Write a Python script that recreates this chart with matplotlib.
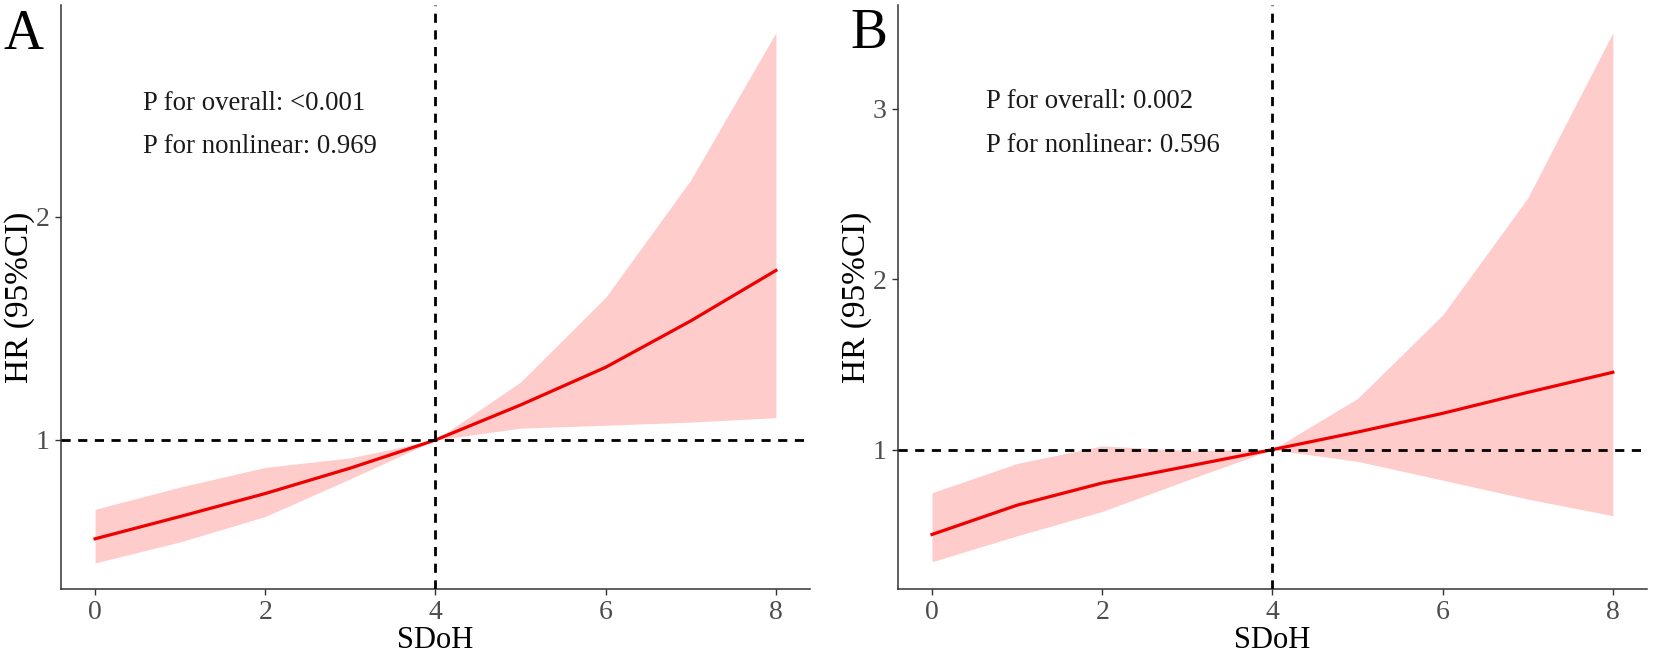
import numpy as np
import matplotlib
matplotlib.use("Agg")
import matplotlib.pyplot as plt

plt.rcParams['font.family'] = ['Liberation Serif', 'DejaVu Serif']

# SDoH score
sdoh = [0, 1, 2, 3, 4, 5, 6, 7, 8]

# panel A: HR and 95% CI
hr_a = [0.557, 0.657, 0.76, 0.874, 1.0, 1.157, 1.326, 1.534, 1.76]
lo_a = [0.449, 0.543, 0.657, 0.826, 1.0, 1.053, 1.066, 1.08, 1.10]
hi_a = [0.689, 0.789, 0.877, 0.92, 1.0, 1.26, 1.64, 2.166, 2.826]

# panel B: HR and 95% CI
hr_b = [0.502, 0.674, 0.804, 0.902, 1.0, 1.103, 1.213, 1.336, 1.454]
lo_b = [0.342, 0.494, 0.637, 0.821, 1.0, 0.931, 0.821, 0.71, 0.612]
hi_b = [0.747, 0.919, 1.022, 0.995, 1.0, 1.30, 1.79, 2.477, 3.447]

p_text_a = ["P for overall: <0.001", "P for nonlinear: 0.969"]
p_text_b = ["P for overall: 0.002", "P for nonlinear: 0.596"]

ref_x = 4
ref_y = 1


def draw_panel(ax, hr, lo, hi, ylim, yticks, ptext, tx, ty):
    ax.fill_between(sdoh, lo, hi, color="#FFCCCC", linewidth=0, zorder=1)
    ax.plot(sdoh, hr, color="#EE0000", linewidth=2.3, zorder=3)
    ax.axhline(ref_y, color="black", linewidth=2.0, dashes=(3.3, 2.7), zorder=4)
    ax.axvline(ref_x, color="black", linewidth=2.0, dashes=(3.3, 2.7), zorder=4)
    ax.set_xlim(-0.4, 8.4)
    ax.set_ylim(*ylim)
    ax.set_xticks([0, 2, 4, 6, 8])
    ax.set_yticks(yticks)
    ax.spines['top'].set_visible(False)
    ax.spines['right'].set_visible(False)
    for s in ['left', 'bottom']:
        ax.spines[s].set_color("#333333")
        ax.spines[s].set_linewidth(1.1)
    ax.tick_params(axis='both', colors="#333333", labelcolor="#4D4D4D",
                   labelsize=20, length=4, width=1.0, pad=4)
    ax.set_xlabel("SDoH", fontsize=22, color="black", labelpad=1)
    ax.set_ylabel("HR (95%CI)", fontsize=24, color="black", va="center")
    ax.yaxis.set_label_coords(-0.055, 0.5)
    for t, y in zip(ptext, ty):
        ax.text(tx, y, t, fontsize=19.3, color="#1a1a1a", va="baseline", ha="left")


fig = plt.figure(figsize=(16.54, 6.54), dpi=100)
ax1 = fig.add_axes([0.0369, 0.0994, 0.4528, 0.893])
ax2 = fig.add_axes([0.5429, 0.0994, 0.4528, 0.893])

draw_panel(ax1, hr_a, lo_a, hi_a, (0.332, 2.95), [1, 2], p_text_a, 0.56, [2.48, 2.287])
draw_panel(ax2, hr_b, lo_b, hi_b, (0.182, 3.61), [1, 2, 3], p_text_b, 0.64, [3.006, 2.747])

fig.text(4 / 1654, 1 - 49 / 654, "A", fontsize=40, va="baseline", ha="left")
fig.text(850 / 1654, 1 - 48 / 654, "B", fontsize=40, va="baseline", ha="left")

fig.savefig("out.png", dpi=100)
